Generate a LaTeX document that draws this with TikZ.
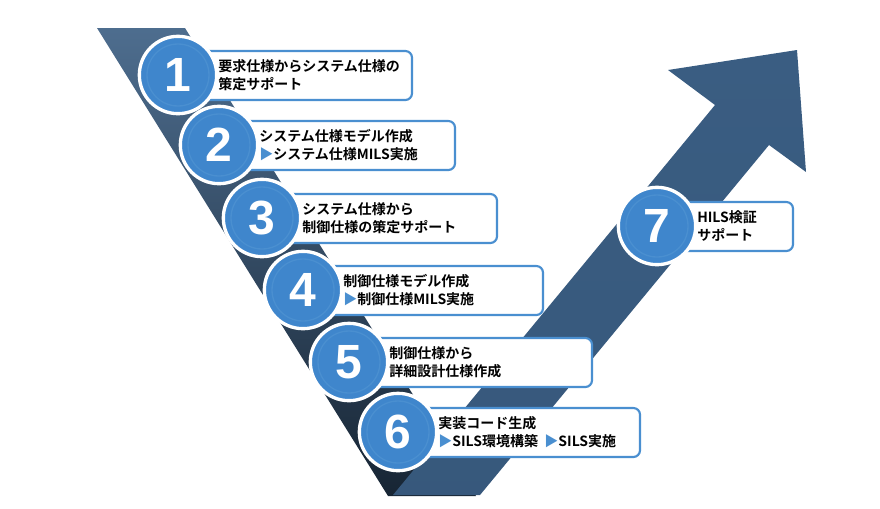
\documentclass[tikz,border=0pt]{standalone}
\usepackage{fontspec}
\setmainfont{Noto Sans CJK JP}[BoldFont={* Bold}]
\newfontfamily\numfont{Liberation Sans}[BoldFont={* Bold}]
\begin{document}
\definecolor{bblue}{HTML}{3F86CC}
\definecolor{bord}{HTML}{4A8FD0}
\definecolor{arrowc}{HTML}{3A5D82}
\newcommand{\tri}{\textcolor{bord}{▶}}
\begin{tikzpicture}[x=0.75pt,y=-0.75pt,
  box/.style={draw=bord,line width=1.6pt,fill=white,rounded corners=5pt},
  badge/.style={circle,fill=bblue,draw=white,line width=2.5pt,minimum size=58pt,inner sep=0pt,
     text=white,font=\numfont\bfseries\fontsize{36}{36}\selectfont},
  lbl/.style={anchor=west,align=left,font=\bfseries\fontsize{10.5}{13.5}\selectfont,text=black,inner sep=0pt}]
\useasboundingbox (0,0) rectangle (880,508);
% left band
\shade[top color=arrowc!90!white,bottom color=arrowc!40!black] (97,28) -- (185,28) -- (476,496) -- (388,496) -- cycle;
% arrow
\shade[bottom color=arrowc!95!black,top color=arrowc] (393,495) -- (715,105) -- (668,70) -- (797,50) -- (806,172) -- (769,145) -- (480,495) -- cycle;
% boxes
\foreach \n/\cx/\cy/\rx/\tA in {1/178/75/412/{要求仕様からシステム仕様の\\策定サポート},
  2/219/145/455/{システム仕様モデル作成\\\tri システム仕様MILS実施},
  3/262/218/497/{システム仕様から\\制御仕様の策定サポート},
  4/303/290/543/{制御仕様モデル作成\\\tri 制御仕様MILS実施},
  5/349/362/592/{制御仕様から\\詳細設計仕様作成},
  6/398/432/640/{実装コード生成\\\tri SILS環境構築\ \ \tri SILS実施},
  7/657/226/793/{HILS検証\\サポート}}{
  \draw[box] (\cx,\cy-24) rectangle (\rx,\cy+25);
  \node[badge] (b\n) at (\cx,\cy) {\n};
  \draw[bord,line width=1pt] (b\n) circle (31);
  \node[lbl] (t\n) at (\cx+40,\cy) {\tA};
}
\end{tikzpicture}
\end{document}
